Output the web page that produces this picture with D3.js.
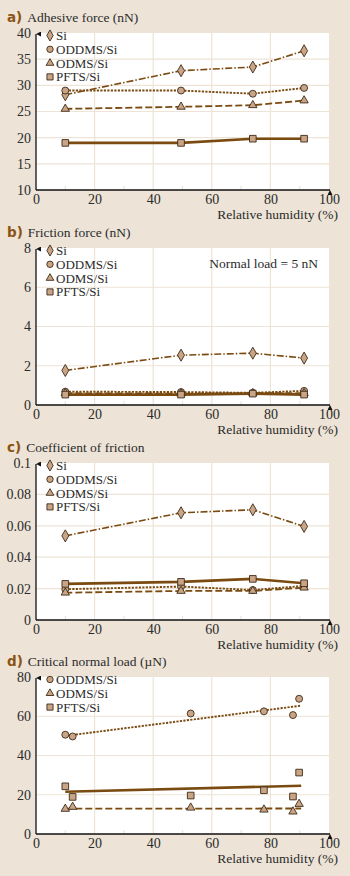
<!DOCTYPE html>
<html>
<head>
<meta charset="utf-8">
<script src="https://cdn.jsdelivr.net/npm/d3@7"></script>
<style>
  html, body { margin: 0; padding: 0; background: #ede3d7; }
  svg { display: block; }
  text { font-family: "Liberation Serif", "DejaVu Serif", serif; fill: #2b2b2b; }
</style>
</head>
<body>
<div id="chart"></div>
<script>
// humidity (%) where measured
const rh = [10, 49.5, 74, 91.5];

// a) adhesive force (nN)
const adhSi    = [28.2, 32.8, 33.5, 36.6];
const adhODDMS = [29.0, 29.0, 28.4, 29.5];
const adhODMS  = [25.5, 25.9, 26.2, 27.1];
const adhPFTS  = [19.0, 19.0, 19.8, 19.8];

// b) friction force (nN)
const friSi    = [1.76, 2.54, 2.64, 2.39];
const friODDMS = [0.68, 0.66, 0.62, 0.72];
const friODMS  = [0.60, 0.58, 0.60, 0.60];
const friPFTS  = [0.53, 0.53, 0.58, 0.53];

// c) coefficient of friction
const cofSi    = [0.0536, 0.0683, 0.0702, 0.0596];
const cofODDMS = [0.0196, 0.0213, 0.0191, 0.0217];
const cofODMS  = [0.0174, 0.0185, 0.0185, 0.0206];
const cofPFTS  = [0.0230, 0.0243, 0.0262, 0.0234];

// d) critical normal load (µN), scattered points + fitted lines
const rhD      = [10, 12.5, 52.8, 77.8, 87.7, 89.8];
const critODDMS = [50.6, 49.7, 61.4, 62.5, 60.6, 68.9];
const critODMS  = [12.8, 13.8, 13.4, 12.4, 11.4, 15.3];
const critPFTS  = [24.3, 18.9, 19.6, 22.3, 19.1, 31.3];
const fitX      = [10, 90.5];
const fitODDMS  = [50.0, 65.4];
const fitODMS   = [12.9, 13.0];
const fitPFTS   = [21.5, 24.6];

const xTicks = [0, 20, 40, 60, 80, 100];

const W = 350, H = 876;
const left = 36, right = 329, ph = 157;
const lineCol = '#7a4a10';
const markFill = '#c9a586';
const markStroke = '#3d2a18';
const gridCol = '#ede3d7';
const fs = 12.5;   // legend
const tfs = 14;    // tick labels

const styles = {
    'Si':       { dash: '7,2,1.5,2', w: 1.6, sym: d3.symbolDiamond, size: 42 },
    'ODDMS/Si': { dash: '2.2,1.3',   w: 1.9, sym: d3.symbolCircle,  size: 38 },
    'ODMS/Si':  { dash: '7,3',       w: 1.8, sym: d3.symbolTriangle, size: 30 },
    'PFTS/Si':  { dash: null,        w: 2.6, sym: d3.symbolSquare,  size: 44 }
};

const panels = [
    { letter: 'a)', title: 'Adhesive force (nN)', top: 33, dom: [10, 40], ticks: [10, 15, 20, 25, 30, 35, 40],
      series: [['Si', rh, adhSi], ['ODDMS/Si', rh, adhODDMS], ['ODMS/Si', rh, adhODMS], ['PFTS/Si', rh, adhPFTS]] },
    { letter: 'b)', title: 'Friction force (nN)', top: 248, dom: [0, 8], ticks: [0, 2, 4, 6, 8],
      note: 'Normal load = 5 nN',
      series: [['Si', rh, friSi], ['ODDMS/Si', rh, friODDMS], ['ODMS/Si', rh, friODMS], ['PFTS/Si', rh, friPFTS]] },
    { letter: 'c)', title: 'Coefficient of friction', top: 463, dom: [0, 0.1], ticks: [0, 0.02, 0.04, 0.06, 0.08, 0.1],
      series: [['Si', rh, cofSi], ['ODDMS/Si', rh, cofODDMS], ['ODMS/Si', rh, cofODMS], ['PFTS/Si', rh, cofPFTS]] },
    { letter: 'd)', title: 'Critical normal load (\u00b5N)', top: 677, dom: [0, 80], ticks: [0, 20, 40, 60, 80],
      scatter: true,
      series: [['ODDMS/Si', rhD, critODDMS, fitODDMS], ['ODMS/Si', rhD, critODMS, fitODMS], ['PFTS/Si', rhD, critPFTS, fitPFTS]] }
];

const svg = d3.select('#chart').append('svg')
    .attr('width', W).attr('height', H);

svg.append('defs').append('marker').attr('id', 'arr')
    .attr('viewBox', '0 0 10 10').attr('refX', 5).attr('refY', 0)
    .attr('markerWidth', 5).attr('markerHeight', 9).attr('markerUnits', 'userSpaceOnUse')
    .attr('orient', 'auto-start-reverse')
    .append('path').attr('d', 'M0,10 L5,0 L10,10 Z').attr('fill', '#111');

const x = d3.scaleLinear().domain([0, 100]).range([left, right]);

panels.forEach(p => {
    const y = d3.scaleLinear().domain(p.dom).range([p.top + ph, p.top]);
    const g = svg.append('g');

    // plot background
    g.append('rect').attr('x', left).attr('y', p.top)
        .attr('width', right - left).attr('height', ph).attr('fill', '#fff');

    // grid
    g.selectAll('.vg').data(xTicks.slice(1, -1)).enter().append('line')
        .attr('x1', d => x(d)).attr('x2', d => x(d))
        .attr('y1', p.top).attr('y2', p.top + ph)
        .attr('stroke', gridCol).attr('stroke-width', 1.2);
    g.selectAll('.mt').data([10, 30, 50, 70, 90]).enter().append('line')
        .attr('x1', d => x(d)).attr('x2', d => x(d))
        .attr('y1', p.top + ph - 4).attr('y2', p.top + ph)
        .attr('stroke', gridCol).attr('stroke-width', 1.2);
    g.selectAll('.hg').data(p.ticks.slice(1, -1)).enter().append('line')
        .attr('x1', left).attr('x2', right)
        .attr('y1', d => y(d)).attr('y2', d => y(d))
        .attr('stroke', gridCol).attr('stroke-width', 1.2);

    // axes
    const ya = g.append('g').attr('transform', `translate(${left - 2},0)`)
        .call(d3.axisLeft(y).tickValues(p.ticks).tickFormat(d => String(d)).tickSize(0));
    ya.select('.domain').remove();
    ya.selectAll('text').attr('font-size', tfs).attr('fill', '#2b2b2b')
        .style('font-family', '"Liberation Serif", serif');

    const xa = g.append('g').attr('transform', `translate(0,${p.top + ph + 1})`)
        .call(d3.axisBottom(x).tickValues(xTicks).tickSize(0));
    xa.select('.domain').remove();
    xa.selectAll('text').attr('font-size', tfs).attr('fill', '#2b2b2b')
        .style('font-family', '"Liberation Serif", serif');

    g.append('line').attr('x1', left).attr('x2', left)
        .attr('y1', p.top + ph).attr('y2', p.top + 1)
        .attr('stroke', '#111').attr('stroke-width', 1.3)
        .attr('marker-end', 'url(#arr)');
    g.append('line').attr('x1', left).attr('x2', right + 1)
        .attr('y1', p.top + ph).attr('y2', p.top + ph)
        .attr('stroke', '#111').attr('stroke-width', 1.3)
        .attr('marker-end', 'url(#arr)');

    g.append('text').attr('x', 338).attr('y', p.top + ph + 29)
        .attr('text-anchor', 'end').attr('font-size', 13.5)
        .text('Relative humidity (%)');

    // title
    const t = g.append('text').attr('x', 7).attr('y', p.top - 11).attr('font-size', 13.5);
    t.append('tspan').text(p.letter).attr('fill', '#8a5514')
        .style('font-family', '"DejaVu Sans", sans-serif').attr('font-weight', 'bold');
    t.append('tspan').attr('dx', 5).text(p.title);

    // lines
    const line = d3.line().x(d => x(d[0])).y(d => y(d[1]));
    p.series.forEach(s => {
        const st = styles[s[0]];
        const pts = p.scatter ? d3.zip(fitX, s[3]) : d3.zip(s[1], s[2]);
        g.append('path').datum(pts).attr('d', line)
            .attr('fill', 'none').attr('stroke', lineCol)
            .attr('stroke-width', st.w)
            .attr('stroke-dasharray', st.dash);
    });
    // markers on top
    p.series.forEach(s => {
        const st = styles[s[0]];
        g.selectAll(null).data(d3.zip(s[1], s[2])).enter().append('path')
            .attr('d', d3.symbol().type(st.sym).size(st.size))
            .attr('transform', d => `translate(${x(d[0])},${y(d[1])})`)
            .attr('fill', markFill).attr('stroke', markStroke).attr('stroke-width', 0.9);
    });

    // legend
    p.series.forEach((s, i) => {
        const st = styles[s[0]];
        const ly = p.top + 2.5 + i * 13.8;
        g.append('path').attr('d', d3.symbol().type(st.sym).size(st.size * 0.85))
            .attr('transform', `translate(50,${ly})`)
            .attr('fill', markFill).attr('stroke', markStroke).attr('stroke-width', 0.9);
        g.append('text').attr('x', 56).attr('y', ly + 4.5)
            .attr('font-size', 13).text(s[0]);
    });

    if (p.note) {
        g.append('text').attr('x', 318).attr('y', p.top + 19.5)
            .attr('text-anchor', 'end').attr('font-size', 13.5).text(p.note);
    }
});
</script>
</body>
</html>
